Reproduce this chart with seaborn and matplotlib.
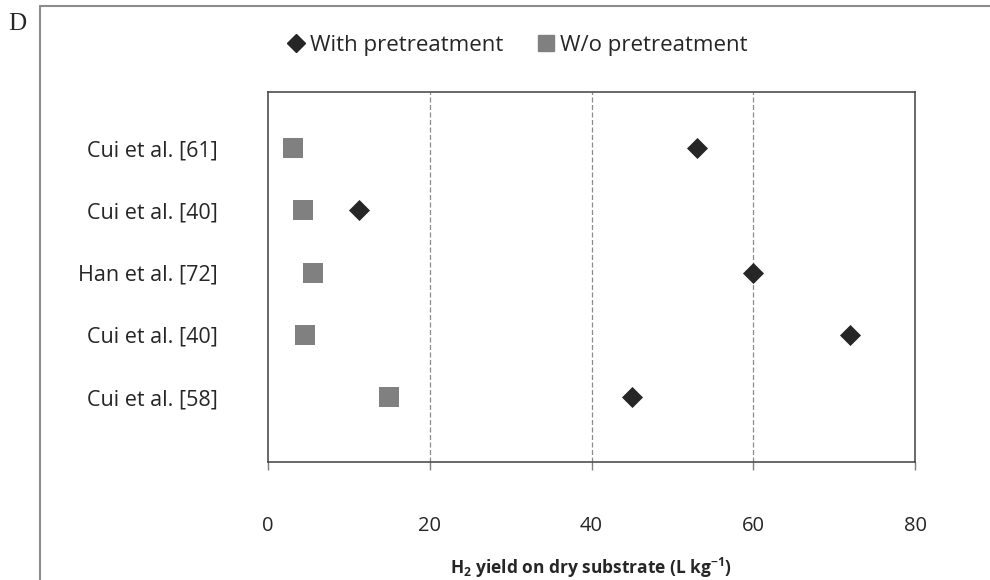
import numpy as np
import pandas as pd
import matplotlib.pyplot as plt
import seaborn as sns
from matplotlib.lines import Line2D

# === Data ===
studies = ["Cui et al. [61]", "Cui et al. [40]", "Han et al. [72]", "Cui et al. [40]", "Cui et al. [58]"]
with_pretreat = [53.0, 11.3, 60.0, 72.0, 45.0]
without_pretreat = [3.1, 4.3, 5.6, 4.6, 15.0]
series_names = ["With pretreatment", "W/o pretreatment"]
x_ticks = [0, 20, 40, 60, 80]

# duplicate study labels -> use row index as position
rows = np.arange(len(studies))
df = pd.DataFrame({
    "row": np.concatenate([rows, rows]),
    "yield": with_pretreat + without_pretreat,
    "series": [series_names[0]] * len(rows) + [series_names[1]] * len(rows),
})

sns.set_style("white")
plt.rcParams["font.family"] = ["Open Sans", "DejaVu Sans"]
plt.rcParams["mathtext.fontset"] = "custom"
plt.rcParams["mathtext.rm"] = "Open Sans"
plt.rcParams["mathtext.bf"] = "Open Sans:bold"

fig = plt.figure(figsize=(9.9, 5.8), dpi=100)
ax = fig.add_axes([268 / 990, 1 - 462 / 580, 647 / 990, 370 / 580])

colors = {series_names[0]: "#262626", series_names[1]: "#808080"}
markers = {series_names[0]: "D", series_names[1]: "s"}
sizes = {series_names[0]: 115, series_names[1]: 200}
for name in series_names:
    sns.scatterplot(data=df[df["series"] == name], x="yield", y="row",
                    color=colors[name], marker=markers[name], s=sizes[name],
                    linewidth=0, ax=ax, zorder=3, legend=False)

ax.set_xlim(0, 80)
ax.set_ylim(5.04, -0.9)
ax.set_xticks(x_ticks)
ax.set_xticklabels([str(t) for t in x_ticks], fontsize=14.5)
ax.set_yticks(rows)
ax.set_yticklabels(studies, fontsize=15.5)
ax.tick_params(axis="y", length=0, pad=36)
ax.tick_params(axis="x", direction="out", length=6, width=1, color="#7f7f7f",
               pad=33, bottom=True)
for t in x_ticks[1:-1]:
    ax.axvline(t, color="#8c8c8c", lw=0.9, ls=(0, (4, 2)), zorder=1)
for sp in ax.spines.values():
    sp.set_color("#404040")
    sp.set_linewidth(1.1)

ax.set_ylabel("")
ax.set_xlabel(r"H$_\mathbf{2}$ yield on dry substrate (L kg$^\mathbf{-1}$)",
              fontsize=12.5, fontweight="bold", labelpad=14)

# legend on top
handles = [
    Line2D([], [], marker="D", color="#262626", ls="", markersize=9),
    Line2D([], [], marker="s", color="#808080", ls="", markersize=12),
]
fig.legend(handles, series_names, loc="center", bbox_to_anchor=(516 / 990, 1 - 45 / 580),
           ncol=2, frameon=False, fontsize=16, handletextpad=0.15, columnspacing=1.4,
           handlelength=1.0)

# outer frame of the panel and panel letter
fig.add_artist(Line2D([40 / 990, 40 / 990], [0, 1 - 6 / 580], color="#8c8c8c", lw=1.5,
                      transform=fig.transFigure))
fig.add_artist(Line2D([40 / 990, 1], [1 - 6 / 580, 1 - 6 / 580], color="#8c8c8c", lw=1.5,
                      transform=fig.transFigure))
fig.text(8 / 990, 1 - 24 / 580, "D", fontsize=18, family="Liberation Serif", va="center")

fig.savefig("out.png", dpi=100, facecolor="white")
